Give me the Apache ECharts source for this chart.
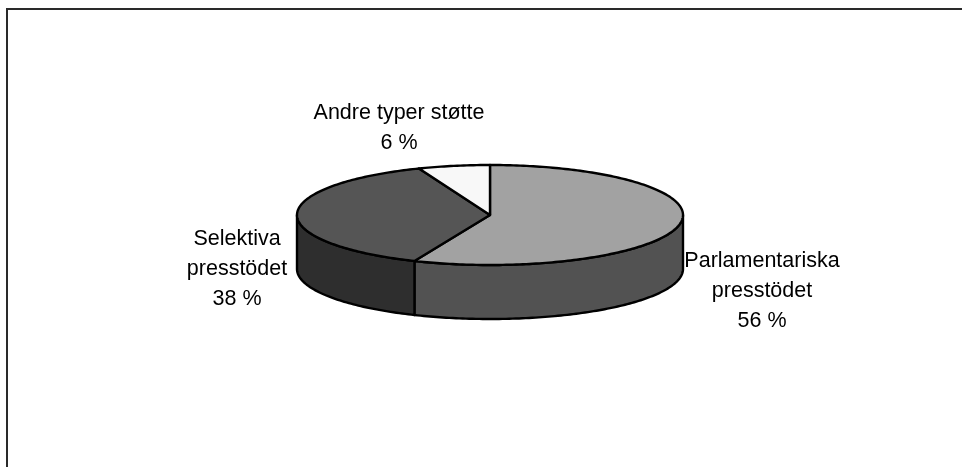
<!DOCTYPE html>
<html>
<head>
<meta charset="utf-8">
<style>html,body{margin:0;padding:0;background:#fff}#c{width:962px;height:467px}</style>
<script src="https://cdn.jsdelivr.net/npm/echarts@6/dist/echarts.min.js"></script>
</head>
<body>
<div id="c"></div>
<script>
var categories = ['Parlamentariska\npresstödet', 'Selektiva\npresstödet', 'Andre typer støtte'];
var values = [56.4, 37.6, 6.0];
var percentLabels = ['56 %', '38 %', '6 %'];
var topColors = ['#a2a2a2', '#555555', '#f8f8f8'];
var wallColors = ['#525252', '#2e2e2e', '#7c7c7c'];

var PIE = { cx: 490, cy: 215, rx: 193, ry: 50, depth: 54 };
var LABEL_POS = [[762, 291], [237, 269], [399, 128]];

var total = values.reduce(function (a, b) { return a + b; }, 0);
function angleRange(i) {
  var before = 0;
  for (var k = 0; k < i; k++) before += values[k];
  return [before / total * 360, (before + values[i]) / total * 360];
}
function pt(deg, dy) {
  var r = deg * Math.PI / 180;
  return [PIE.cx + PIE.rx * Math.sin(r), PIE.cy - PIE.ry * Math.cos(r) + (dy || 0)];
}
function arc(a, b, dy) {
  var out = [], n = Math.max(2, Math.ceil(Math.abs(b - a)));
  for (var i = 0; i <= n; i++) out.push(pt(a + (b - a) * i / n, dy));
  return out;
}
var seriesData = values.map(function (v, i) { return { name: categories[i], value: v }; });

function renderWall(params) {
  var r = angleRange(params.dataIndex);
  var a = Math.max(r[0], 90), b = Math.min(r[1], 270);
  if (a >= b) return { type: 'group', children: [] };
  var pts = arc(a, b, 0).concat(arc(b, a, PIE.depth));
  return {
    type: 'polygon',
    shape: { points: pts },
    style: { fill: wallColors[params.dataIndex], stroke: '#000', lineWidth: 2.4, lineJoin: 'round' }
  };
}
function renderTop(params) {
  var i = params.dataIndex, r = angleRange(i);
  var pts = [[PIE.cx, PIE.cy]].concat(arc(r[0], r[1], 0));
  return {
    type: 'polygon',
    shape: { points: pts },
    style: { fill: topColors[i], stroke: '#000', lineWidth: 2.4, lineJoin: 'round' }
  };
}
function renderLabel(params) {
  var i = params.dataIndex;
  return {
    type: 'text',
    x: LABEL_POS[i][0],
    y: LABEL_POS[i][1],
    style: {
      text: categories[i] + '\n' + percentLabels[i],
      fill: '#000',
      font: '21.5px "Liberation Sans", Arial, sans-serif',
      lineHeight: 30,
      align: 'center',
      verticalAlign: 'middle'
    }
  };
}
var chart = echarts.init(document.getElementById('c'), null, { renderer: 'canvas' });
chart.setOption({
  animation: false,
  backgroundColor: '#ffffff',
  graphic: [
    { type: 'line', silent: true, shape: { x1: 7, y1: 9, x2: 962, y2: 9 }, style: { stroke: '#2a2a2a', lineWidth: 2 } },
    { type: 'line', silent: true, shape: { x1: 7, y1: 8, x2: 7, y2: 467 }, style: { stroke: '#2a2a2a', lineWidth: 2 } }
  ],
  series: [
    { type: 'custom', coordinateSystem: 'none', silent: true, data: seriesData, renderItem: renderWall, z: 1 },
    { type: 'custom', coordinateSystem: 'none', silent: true, data: seriesData, renderItem: renderTop, z: 2 },
    { type: 'custom', coordinateSystem: 'none', silent: true, data: seriesData, renderItem: renderLabel, z: 3 }
  ]
});
</script>
</body>
</html>
